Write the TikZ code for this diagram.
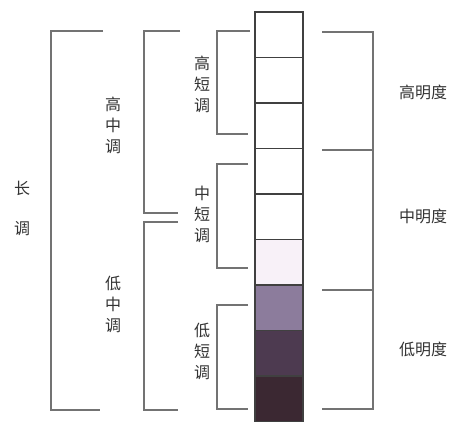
\documentclass[tikz,border=0pt]{standalone}
\usepackage{fontspec}
\newfontfamily\cjk{Noto Sans CJK SC}
\usetikzlibrary{positioning}
\definecolor{pale}{HTML}{F8F1F8}
\definecolor{lilac}{HTML}{8C7C9C}
\definecolor{plum}{HTML}{4D3A50}
\definecolor{aubergine}{HTML}{3B2832}
\begin{document}
\begin{tikzpicture}[
        x = 1pt, y = -1pt,
        cell/.style  = {draw=black!75, line width=1.2pt, minimum width=48pt, minimum height=45.5pt, inner sep=0pt, outer sep=0pt},
        brace/.style = {draw=black!55, line width=1.3pt},
        tone/.style  = {font=\cjk\fontsize{16}{21}\selectfont, align=center, inner sep=0pt, text=black!80},
        %sloped
      ]
        \useasboundingbox (0,0) rectangle (457,422);
        % value column
        \node[cell] (c1) at (279,34.75) {};
        \node[cell, below=0pt of c1] (c2) {};
        \node[cell, below=0pt of c2] (c3) {};
        \node[cell, below=0pt of c3] (c4) {};
        \node[cell, below=0pt of c4] (c5) {};
        \node[cell, below=0pt of c5, fill=pale] (c6) {};
        \node[cell, below=0pt of c6, fill=lilac] (c7) {};
        \node[cell, below=0pt of c7, fill=plum] (c8) {};
        \node[cell, below=0pt of c8, fill=aubergine] (c9) {};
        % brackets
        \draw[brace] (103,31) -| (51,410) -- (100,410);
        \draw[brace] (180,31) -| (144,213) -- (178,213);
        \draw[brace] (178,222) -| (144,410) -- (178,410);
        \draw[brace] (250,31) -| (217,134) -- (248,134);
        \draw[brace] (248,164) -| (217,268) -- (248,268);
        \draw[brace] (248,305) -| (217,409) -- (248,409);
        \draw[brace] (322,32) -| (373,409) -- (322,409);
        \draw[brace] (322,150) -- (373,150);
        \draw[brace] (322,290) -- (373,290);
        % labels
        \node[tone] (chang)  at (22,208)  {长\\[19pt]调};
        \node[tone] (gaoz)   at (113,125) {高\\中\\调};
        \node[tone] (diz)    at (113,304) {低\\中\\调};
        \node[tone] (gaod)   at (202,84)  {高\\短\\调};
        \node[tone] (zhongd) at (202,214) {中\\短\\调};
        \node[tone] (did)    at (202,351) {低\\短\\调};
        \node[tone] (gaom)   at (423,92)  {高明度};
        \node[tone] (zhongm) at (423,216) {中明度};
        \node[tone] (dim)    at (423,349) {低明度};
    \end{tikzpicture}
\end{document}
